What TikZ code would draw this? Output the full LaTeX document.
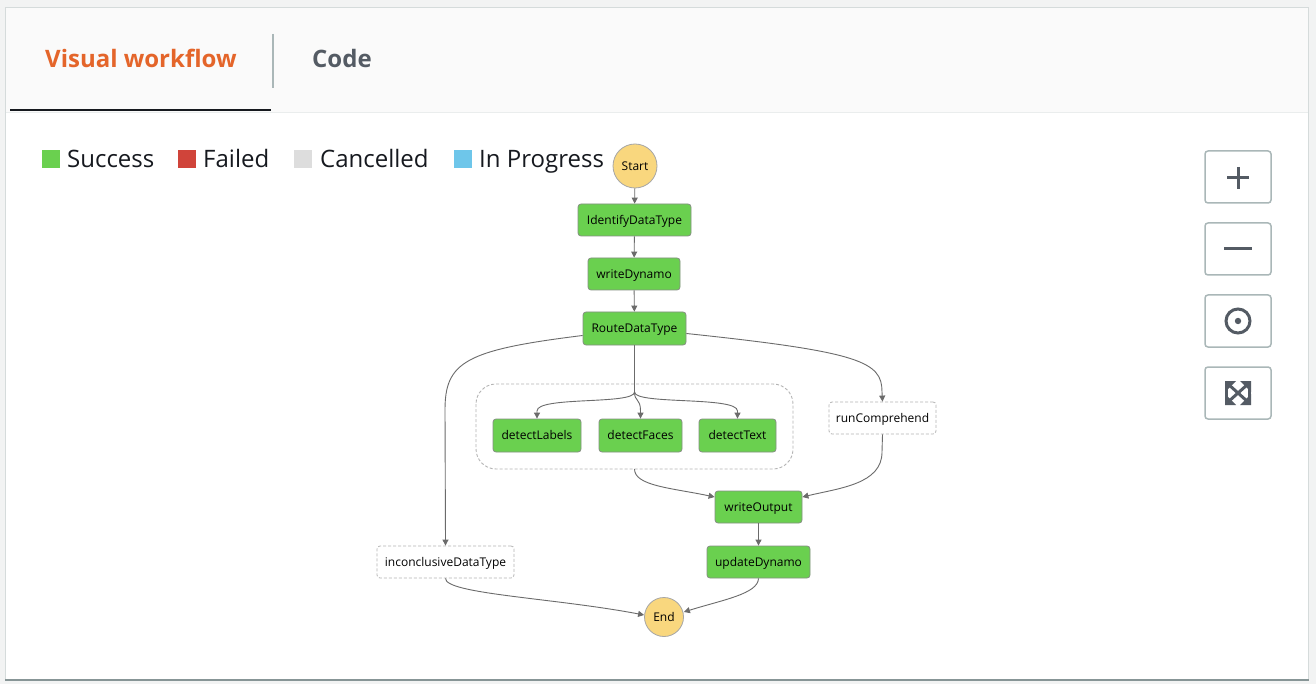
\documentclass[tikz,border=0pt]{standalone}
\usepackage{fontspec}
\setmainfont{Open Sans}
\usetikzlibrary{arrows.meta,calc,shapes.geometric}
\definecolor{bgout}{HTML}{F2F3F3}
\definecolor{hdr}{HTML}{FAFAFA}
\definecolor{sepc}{HTML}{EAEDED}
\definecolor{brd}{HTML}{D5DBDB}
\definecolor{shad}{HTML}{879596}
\definecolor{orng}{HTML}{E4652A}
\definecolor{dgray}{HTML}{545B64}
\definecolor{tabline}{HTML}{AAB7B8}
\definecolor{ulc}{HTML}{16191F}
\definecolor{okgreen}{HTML}{6AD04F}
\definecolor{failred}{HTML}{D0443A}
\definecolor{cancgray}{HTML}{DDDDDD}
\definecolor{progblue}{HTML}{6EC6EA}
\definecolor{ylw}{HTML}{F9D77E}
\definecolor{nodebrd}{HTML}{858F82}
\definecolor{edgec}{HTML}{6B6B6B}
\definecolor{dashc}{HTML}{B4B4B4}
\tikzset{
  stepbox/.style={rectangle, rounded corners=3pt, fill=okgreen, draw=nodebrd, line width=0.8pt,
    minimum height=32pt, inner xsep=0pt, text height=8.6pt, text depth=0pt,
    font=\fontsize{12}{14}\selectfont, text=black},
  passbox/.style={rectangle, rounded corners=3pt, fill=white, draw=dashc, dashed, dash pattern=on 3pt off 2pt,
    line width=0.8pt, minimum height=32pt, inner xsep=0pt, text height=8.6pt, text depth=0pt,
    font=\fontsize{12}{14}\selectfont, text=black},
  termnode/.style={circle, fill=ylw, draw=gray!70, line width=0.8pt, inner sep=0pt,
    text height=8.6pt, text depth=0pt, font=\fontsize{12}{14}\selectfont},
  flow/.style={draw=edgec, line width=0.9pt, -{Triangle[length=6pt,width=6pt]}},
  legsq/.style={rectangle, minimum size=18pt, inner sep=0pt, anchor=north west},
  legtxt/.style={anchor=base west, inner sep=0pt, font=\fontsize{24}{28}\selectfont, text=ulc},
  ctrlbtn/.style={rectangle, rounded corners=3pt, draw=tabline, line width=1.5pt, fill=white,
    minimum width=66pt, minimum height=52pt},
  icon/.style={draw=dgray, line width=3pt},
}
\begin{document}
\begin{tikzpicture}[x=1pt,y=-1pt]
\useasboundingbox (0,0) rectangle (1316,684);
\fill[bgout] (0,0) rectangle (1316,684);
% panel
\fill[shad] (5,8) rectangle (1309,681);
\fill[brd] (5,7) rectangle (1309,679);
\fill[white] (6,8) rectangle (1308,678.5);
\fill[hdr] (6,8) rectangle (1308,112);
\draw[sepc, line width=1.5pt] (6,112.5) -- (1308,112.5);
% tabs
\node[anchor=base west, inner sep=0pt, font=\bfseries\fontsize{24}{28}\selectfont, text=orng] (tabvis) at (45,68) {Visual workflow};
\node[anchor=base west, inner sep=0pt, font=\bfseries\fontsize{24}{28}\selectfont, text=dgray] (tabcode) at (312,68) {Code};
\draw[tabline, line width=1.5pt] (273,34) -- (273,88);
\draw[ulc, line width=2.5pt] (10,110) -- (271,110);
% legend
\node[legsq, fill=okgreen] (lg1) at (42,150) {};
\node[legtxt] (lt1) at (67,168) {Success};
\node[legsq, fill=failred] (lg2) at (178,150) {};
\node[legtxt] (lt2) at (203,168) {Failed};
\node[legsq, fill=cancgray] (lg3) at (294,150) {};
\node[legtxt] (lt3) at (320,168) {Cancelled};
\node[legsq, fill=progblue] (lg4) at (454,150) {};
\node[legtxt] (lt4) at (479,168) {In Progress};
% control buttons
\node[ctrlbtn] (bplus) at (1238,177) {};
\node[ctrlbtn] (bminus) at (1238,249) {};
\node[ctrlbtn] (bcenter) at (1238,321) {};
\node[ctrlbtn] (bfit) at (1238,393) {};
\draw[icon] (1227,178) -- (1249,178);
\draw[icon] (1238,167) -- (1238,189);
\draw[icon] (1224,249) -- (1252,249);
\draw[icon] (1238,321) circle (12);
\fill[dgray] (1238,321) circle (3.2);
% fit icon
\begin{scope}[dgray]
\fill (1225,381) -- (1236,381) -- (1225,392) -- cycle;
\fill (1251,381) -- (1240,381) -- (1251,392) -- cycle;
\fill (1225,405) -- (1236,405) -- (1225,394) -- cycle;
\fill (1251,405) -- (1240,405) -- (1251,394) -- cycle;
\draw[line width=3pt] (1228,384) -- (1248,402);
\draw[line width=3pt] (1248,384) -- (1228,402);
\fill (1225,381) rectangle (1228,405);
\fill (1248,381) rectangle (1251,405);
\end{scope}
% group box
\draw[dashc, line width=0.9pt, dash pattern=on 3pt off 2pt, rounded corners=20pt] (476,384) rectangle (793,469);
\coordinate (grpbot) at (634.5,469);
% nodes
\node[termnode, minimum size=44pt] (start) at (635,166) {Start};
\node[stepbox, minimum width=113pt] (ident) at (634.5,220) {IdentifyDataType};
\node[stepbox, minimum width=92pt] (wd) at (634,274) {writeDynamo};
\node[stepbox, minimum width=103pt, minimum height=33pt] (route) at (634.5,328.5) {RouteDataType};
\node[stepbox, minimum width=88pt, minimum height=33pt] (dl) at (537,435.5) {detectLabels};
\node[stepbox, minimum width=83pt, minimum height=33pt] (df) at (640.5,435.5) {detectFaces};
\node[stepbox, minimum width=77pt, minimum height=33pt] (dt) at (737.5,435.5) {detectText};
\node[passbox, minimum width=107pt] (rc) at (882.5,418) {runComprehend};
\node[stepbox, minimum width=87pt] (wo) at (758.5,507) {writeOutput};
\node[stepbox, minimum width=103pt] (up) at (758.5,562) {updateDynamo};
\node[passbox, minimum width=137pt] (inc) at (445.5,562) {inconclusiveDataType};
\node[termnode, minimum size=39pt] (end) at (664,617) {End};
% edges
\draw[flow] (start) -- (ident);
\draw[flow] (ident) -- (wd);
\draw[flow] (wd) -- (route);
\coordinate (split) at (634.5,392);
\draw[flow] (route.south) -- (split) .. controls (634.5,405) and (537,396) .. (537,411) -- (dl.north);
\draw[flow] (route.south) -- (split) .. controls (634.5,402) and (640.5,398) .. (640.5,411) -- (df.north);
\draw[flow] (route.south) -- (split) .. controls (634.5,405) and (737.5,396) .. (737.5,411) -- (dt.north);
\draw[flow] ($(route.west)+(0,7)$) .. controls (465,350) and (445,362) .. (445,410) -- (inc.north);
\draw[flow] ($(route.east)+(0,5)$) .. controls (862,352) and (882,362) .. (882,392) -- (rc.north);
\draw[flow] (grpbot) .. controls (634.5,486) and (672,488) .. ($(wo.west)+(0,-10)$);
\draw[flow] (rc.south) -- (882,452) .. controls (882,484) and (840,488) .. ($(wo.east)+(0,-10)$);
\draw[flow] (wo) -- (up);
\draw[flow] (inc.south) .. controls (445,594) and (555,598) .. ($(end.west)+(0,-2)$);
\draw[flow] (up.south) .. controls (758,594) and (722,600) .. ($(end.east)+(0,-5)$);
\end{tikzpicture}
\end{document}
